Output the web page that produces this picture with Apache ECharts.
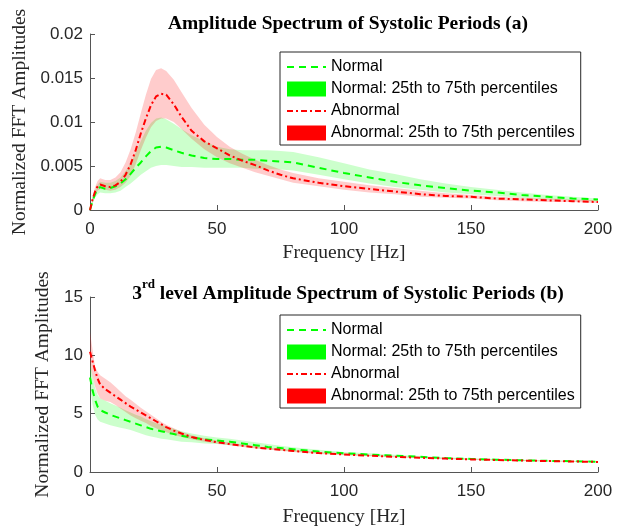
<!DOCTYPE html>
<html>
<head>
<meta charset="utf-8">
<script src="https://cdn.jsdelivr.net/npm/echarts@6/dist/echarts.min.js"></script>
<style>html,body{margin:0;padding:0;background:#fff}#c{width:626px;height:529px}</style>
</head>
<body>
<div id="c"></div>
<script>
// Frequency grid (Hz)
var freq = [0,1,2,3,4,6,8,10,12,14,16,18,20,22,24,26,28,30,33,36,40,45,50,55,60,65,70,75,80,90,100,110,120,130,140,150,160,170,180,190,200];

// (a) Amplitude spectrum
var aNormalMed = [0,0.0010,0.0018,0.0024,0.0026,0.0024,0.0025,0.0027,0.0030,0.0035,0.0041,0.0048,0.0054,0.0061,0.0067,0.0071,0.0072,0.0071,0.0068,0.0065,0.0062,0.0059,0.0058,0.0058,0.0057,0.0057,0.0056,0.0055,0.0054,0.0048,0.0042,0.0037,0.0032,0.0028,0.0025,0.0022,0.0020,0.0017,0.0015,0.0013,0.0012];
var aNormalQ3 = [0,0.0013,0.0022,0.0029,0.0032,0.0031,0.0031,0.0033,0.0037,0.0044,0.0053,0.0065,0.0078,0.0090,0.0099,0.0104,0.0105,0.0103,0.0098,0.0092,0.0085,0.0078,0.0072,0.0069,0.0068,0.0068,0.0068,0.0067,0.0066,0.0060,0.0053,0.0046,0.0041,0.0035,0.0030,0.0026,0.0023,0.0020,0.0017,0.0015,0.0013];
var aNormalQ1 = [0,0.0007,0.0014,0.0018,0.0020,0.0019,0.0019,0.0020,0.0022,0.0026,0.0030,0.0035,0.0040,0.0044,0.0048,0.0050,0.0051,0.0051,0.0050,0.0049,0.0049,0.0048,0.0048,0.0048,0.0048,0.0047,0.0047,0.0046,0.0045,0.0040,0.0035,0.0030,0.0026,0.0023,0.0020,0.0018,0.0016,0.0014,0.0012,0.0011,0.0010];
var aAbnMed = [0,0.0012,0.0021,0.0027,0.0029,0.0027,0.0026,0.0028,0.0032,0.0040,0.0052,0.0068,0.0087,0.0104,0.0119,0.0129,0.0132,0.0131,0.0120,0.0106,0.0090,0.0078,0.0070,0.0062,0.0056,0.0051,0.0045,0.0040,0.0036,0.0031,0.0027,0.0024,0.0021,0.0018,0.0016,0.0015,0.0013,0.0012,0.0011,0.0010,0.0009];
var aAbnQ3 = [0,0.0015,0.0026,0.0033,0.0036,0.0034,0.0034,0.0037,0.0043,0.0054,0.0069,0.0088,0.0110,0.0131,0.0149,0.0159,0.0161,0.0158,0.0148,0.0134,0.0116,0.0097,0.0083,0.0072,0.0064,0.0057,0.0051,0.0046,0.0042,0.0036,0.0032,0.0028,0.0025,0.0022,0.0019,0.0017,0.0015,0.0014,0.0013,0.0012,0.0011];
var aAbnQ1 = [0,0.0009,0.0017,0.0022,0.0024,0.0023,0.0022,0.0023,0.0026,0.0031,0.0039,0.0052,0.0068,0.0082,0.0094,0.0101,0.0104,0.0104,0.0100,0.0092,0.0081,0.0069,0.0060,0.0053,0.0048,0.0043,0.0039,0.0035,0.0031,0.0027,0.0023,0.0020,0.0018,0.0015,0.0014,0.0013,0.0011,0.0010,0.0009,0.0009,0.0008];

// (b) 3rd level amplitude spectrum
var bNormalMed = [8.1,7.0,6.2,5.6,5.3,5.1,4.9,4.75,4.6,4.45,4.3,4.15,4.0,3.85,3.7,3.6,3.5,3.4,3.25,3.1,2.95,2.8,2.7,2.6,2.45,2.3,2.15,2.05,1.95,1.75,1.6,1.5,1.4,1.3,1.2,1.12,1.06,1.0,0.96,0.92,0.88];
var bNormalQ3 = [9.5,8.2,7.2,6.6,6.3,6.1,5.9,5.7,5.5,5.3,5.1,4.9,4.75,4.55,4.35,4.2,4.05,3.9,3.7,3.5,3.3,3.1,2.95,2.85,2.7,2.55,2.4,2.25,2.12,1.9,1.72,1.6,1.48,1.37,1.27,1.18,1.11,1.05,1.0,0.96,0.92];
var bNormalQ1 = [7.3,5.8,4.9,4.5,4.3,4.15,4.0,3.9,3.8,3.7,3.6,3.45,3.3,3.15,3.05,2.95,2.85,2.8,2.7,2.6,2.55,2.45,2.4,2.3,2.2,2.05,1.95,1.85,1.75,1.6,1.48,1.38,1.3,1.22,1.13,1.06,1.0,0.95,0.91,0.87,0.84];
var bAbnMed = [10.3,9.5,8.7,8.0,7.5,7.1,6.8,6.5,6.2,5.9,5.6,5.35,5.1,4.85,4.6,4.35,4.1,3.85,3.55,3.3,3.0,2.75,2.55,2.4,2.25,2.1,2.0,1.9,1.8,1.62,1.5,1.4,1.3,1.22,1.15,1.08,1.03,0.98,0.94,0.9,0.86];
var bAbnQ3 = [12.0,10.5,9.0,8.6,8.3,8.0,7.7,7.3,6.9,6.5,6.2,5.85,5.5,5.2,4.9,4.6,4.3,4.05,3.75,3.45,3.15,2.9,2.7,2.5,2.35,2.2,2.1,1.98,1.88,1.7,1.57,1.46,1.36,1.27,1.2,1.13,1.07,1.02,0.98,0.94,0.9];
var bAbnQ1 = [9.2,8.2,7.3,6.7,6.3,6.1,6.0,5.75,5.45,5.15,4.85,4.6,4.4,4.2,3.95,3.75,3.55,3.4,3.2,3.0,2.8,2.6,2.45,2.3,2.15,2.02,1.92,1.82,1.72,1.55,1.44,1.34,1.25,1.17,1.1,1.04,0.99,0.94,0.9,0.87,0.83];

var xTicks = [0,50,100,150,200];
var yTicksA = [0,0.005,0.01,0.015,0.02];
var yTicksB = [0,5,10,15];

var legendNames = ['Normal','Normal: 25th to 75th percentiles','Abnormal','Abnormal: 25th to 75th percentiles'];

function pairs(ys){ return freq.map(function(f,i){ return [f, ys[i]]; }); }
function triples(lo, hi){ return freq.map(function(f,i){ return [f, lo[i], hi[i]]; }); }

var GREEN = '#00ff00', RED = '#ff0000';
var serif = '"Liberation Serif","Times New Roman",serif';
var sans = '"Liberation Sans",Arial,sans-serif';

function band(name, idx, lo, hi, color, fill, z){
  return {name:name, type:'custom', xAxisIndex:idx, yAxisIndex:idx, data:triples(lo,hi),
    dimensions:['f','lo','hi'], encode:{x:0, y:[1,2]}, silent:true, z:z,
    itemStyle:{color:color},
    renderItem:function(params, api){
      if (params.dataIndexInside !== 0) return null;
      var n = params.dataInsideLength, top = [], bot = [];
      for (var i = 0; i < n; i++){
        top.push(api.coord([api.value(0,i), api.value(2,i)]));
        bot.push(api.coord([api.value(0,i), api.value(1,i)]));
      }
      return {type:'polygon', shape:{points: top.concat(bot.reverse())},
              style:{fill:fill, stroke:null}};
    }};
}
function medLine(name, idx, ys, color, dash){
  return {name:name, type:'line', xAxisIndex:idx, yAxisIndex:idx, data:pairs(ys), symbol:'none',
    itemStyle:{color:color}, lineStyle:{color:color, width:2, type:dash}, z:5};
}
function xAxis(idx, gap){
  return {type:'value', gridIndex:idx, min:xTicks[0], max:xTicks[xTicks.length-1], interval:xTicks[1]-xTicks[0],
    name:'Frequency [Hz]', nameLocation:'middle', nameGap:gap,
    nameTextStyle:{fontFamily:serif, fontSize:19.5, color:'#262626'},
    axisLine:{show:true, lineStyle:{color:'#555', width:1}},
    axisTick:{show:true, inside:true, length:5, lineStyle:{color:'#555'}},
    axisLabel:{fontFamily:sans, fontSize:17, color:'#262626', margin:11},
    splitLine:{show:false}};
}
function yAxis(idx, ticks, gap, fmt){
  return {type:'value', gridIndex:idx, min:ticks[0], max:ticks[ticks.length-1], interval:ticks[1]-ticks[0],
    name:'Normalized FFT Amplitudes', nameLocation:'middle', nameGap:gap,
    nameTextStyle:{fontFamily:serif, fontSize:19.5, color:'#262626'},
    axisLine:{show:true, lineStyle:{color:'#555', width:1}},
    axisTick:{show:true, inside:true, length:5, lineStyle:{color:'#555'}},
    axisLabel:{fontFamily:sans, fontSize:17, color:'#262626', margin:7, formatter:fmt},
    splitLine:{show:false}};
}
function legend(top){
  return {orient:'vertical', left:280, top:top,
    padding:[7,6,4,6], itemGap:6, itemWidth:39, itemHeight:15, itemTextGap:4,
    borderColor:'#262626', borderWidth:1, backgroundColor:'#fff',
    textStyle:{fontFamily:sans, fontSize:16, color:'#000'},
    selectedMode:false,
    data:[
      {name:legendNames[0], itemStyle:{opacity:0}},
      {name:legendNames[1], icon:'rect'},
      {name:legendNames[2], itemStyle:{opacity:0}},
      {name:legendNames[3], icon:'rect'}
    ]};
}

var series = [
  band(legendNames[1], 0, aNormalQ1, aNormalQ3, GREEN, 'rgba(0,255,0,0.2)', 1),
  band(legendNames[3], 0, aAbnQ1, aAbnQ3, RED, 'rgba(255,0,0,0.2)', 2),
  medLine(legendNames[0], 0, aNormalMed, GREEN, [7,5]),
  medLine(legendNames[2], 0, aAbnMed, RED, [6,3,2,3]),
  band(legendNames[1], 1, bNormalQ1, bNormalQ3, GREEN, 'rgba(0,255,0,0.2)', 1),
  band(legendNames[3], 1, bAbnQ1, bAbnQ3, RED, 'rgba(255,0,0,0.2)', 2),
  medLine(legendNames[0], 1, bNormalMed, GREEN, [7,5]),
  medLine(legendNames[2], 1, bAbnMed, RED, [6,3,2,3])
];

var chart = echarts.init(document.getElementById('c'), null, {renderer:'canvas'});
chart.setOption({
  animation:false,
  backgroundColor:'#fff',
  title:[
    {text:'Amplitude Spectrum of Systolic Periods (a)', left:343, top:9, textAlign:'center',
     textStyle:{fontFamily:serif, fontSize:19.5, fontWeight:'bold', color:'#000'}},
    {text:'{b|3}{s|rd}{b| level Amplitude Spectrum of Systolic Periods (b)}', left:343, top:273, textAlign:'center',
     textStyle:{rich:{
       b:{fontFamily:serif, fontSize:19.5, fontWeight:'bold', color:'#000', lineHeight:26, verticalAlign:'bottom'},
       s:{fontFamily:serif, fontSize:13, fontWeight:'bold', color:'#000', lineHeight:26, verticalAlign:'top', padding:[0,0,8,0]}
     }}}
  ],
  grid:[
    {left:90, top:34, width:508, height:176},
    {left:90, top:297, width:508, height:175}
  ],
  xAxis:[xAxis(0,33), xAxis(1,35)],
  yAxis:[
    yAxis(0, yTicksA, 54, function(v){ return v===0?'0':String(+v.toFixed(3)); }),
    yAxis(1, yTicksB, 25, function(v){ return String(v); })
  ],
  legend:[legend(52), legend(315)],
  series:series
});
</script>
</body>
</html>
